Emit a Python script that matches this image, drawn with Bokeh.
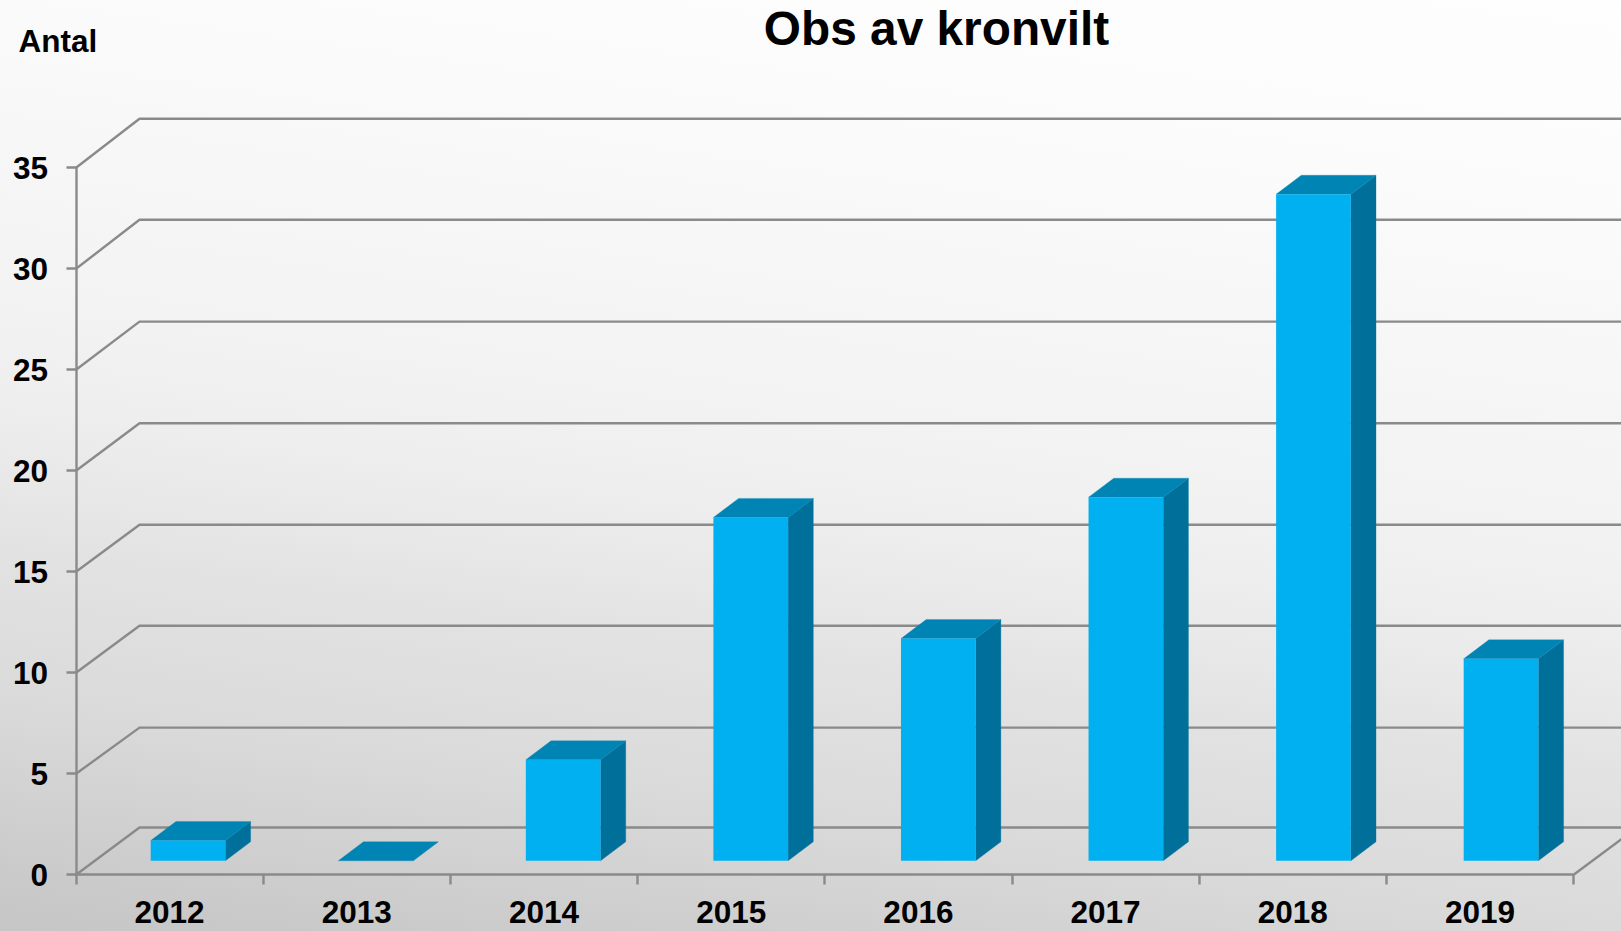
from bokeh.embed import file_html
from bokeh.resources import INLINE
from bokeh.plotting import figure
from bokeh.models import LinearAxis, FixedTicker, Range1d, Label

# --- data ---
years = ["2012", "2013", "2014", "2015", "2016", "2017", "2018", "2019"]
counts = [1, 0, 5, 17, 11, 18, 33, 10]
y_ticks = [0, 5, 10, 15, 20, 25, 30, 35]
title_text = "Obs av kronvilt"
y_title_text = "Antal"

# --- layout (pixels on the 1621x931 canvas) ---
W, H = 1621, 931
X0, UX = 75.5, 187.2       # x pixel of category edge 0, pixels per category
Y0, UY = 874.3, 20.2       # y pixel of value 0, pixels per unit


def dx(px):
    return px / UX


def dy(px):
    return px / UY


def sx(px):
    return (px - X0) / UX


def sy(px):
    return (Y0 - px) / UY


WALL_X = dx(63.5)                      # depth of the back wall
WALL_Y_PX = [47.3, 46.2, 47, 47, 47.6, 48.2, 49, 49]   # rise of each wall line
BAR_LEFT, BAR_W = dx(74.7), dx(74.7)   # bar position inside its category
BAR_PITCH = dx(187.57)                 # bar spacing
BAR_BASE = dy(14)                      # bars stand in the middle of the floor
DEPTH_X, DEPTH_Y = dx(25.2), dy(19)    # bar depth

GRID = "#8a8a8a"
FRONT, TOP, SIDE = "#00B0F0", "#0084B4", "#00709B"
FONT = "Liberation Sans"
INK = "#000000"
TICK_SIZE = "31.5px"
LINE_W = 2.4

p = figure(
    width=W, height=H, output_backend="svg", toolbar_location=None,
    x_range=Range1d(sx(0), sx(W)), y_range=Range1d(sy(H), sy(0)),
    x_axis_type=None, y_axis_type=None, min_border=0,
    background_fill_color=None, border_fill_color=None,
    outline_line_color=None,
)
p.grid.visible = False

# back wall / floor lines
n = len(years)
wall_xs = [[0, WALL_X, n + WALL_X] for _ in y_ticks]
wall_ys = [[v, v + dy(r), v + dy(r)] for v, r in zip(y_ticks, WALL_Y_PX)]
wall_xs.append([n, n + WALL_X])
wall_ys.append([0, dy(WALL_Y_PX[0])])
p.multi_line(wall_xs, wall_ys, line_color=GRID, line_width=LINE_W)

# bars
lefts = [i * BAR_PITCH + BAR_LEFT for i in range(n)]
rights = [l + BAR_W for l in lefts]
bases = [BAR_BASE] * n
tops = [c + BAR_BASE for c in counts]

p.patches(
    [[r, r + DEPTH_X, r + DEPTH_X, r] for r in rights],
    [[b, b + DEPTH_Y, t + DEPTH_Y, t] for b, t in zip(bases, tops)],
    fill_color=SIDE, line_color=SIDE, line_width=0.3,
)
p.patches(
    [[l, r, r + DEPTH_X, l + DEPTH_X] for l, r in zip(lefts, rights)],
    [[t, t, t + DEPTH_Y, t + DEPTH_Y] for t in tops],
    fill_color=TOP, line_color=TOP, line_width=0.3,
)
p.quad(left=lefts, right=rights, bottom=bases, top=tops,
       fill_color=FRONT, line_color=None)

# axes
yaxis = LinearAxis(
    fixed_location=0, bounds=(y_ticks[0], y_ticks[-1]),
    ticker=FixedTicker(ticks=y_ticks),
    axis_line_color=GRID, axis_line_width=LINE_W,
    major_tick_line_color=GRID, major_tick_line_width=LINE_W,
    major_tick_in=0, major_tick_out=10, minor_tick_line_color=None,
    major_label_text_font=FONT, major_label_text_font_style="bold",
    major_label_text_font_size=TICK_SIZE, major_label_text_color=INK,
    major_label_standoff=18,
)
p.add_layout(yaxis, "left")

xaxis = LinearAxis(
    fixed_location=0, bounds=(0, n),
    ticker=FixedTicker(ticks=list(range(n + 1))),
    major_label_overrides={i: "" for i in range(n + 1)},
    axis_line_color=GRID, axis_line_width=LINE_W,
    major_tick_line_color=GRID, major_tick_line_width=LINE_W,
    major_tick_in=0, major_tick_out=10, minor_tick_line_color=None,
)
p.add_layout(xaxis, "below")

xlabels = LinearAxis(
    fixed_location=0,
    ticker=FixedTicker(ticks=[i + 0.5 for i in range(n)]),
    major_label_overrides={i + 0.5: y for i, y in enumerate(years)},
    axis_line_color=None, major_tick_line_color=None,
    minor_tick_line_color=None,
    major_tick_in=0, major_tick_out=10,
    major_label_text_font=FONT, major_label_text_font_style="bold",
    major_label_text_font_size=TICK_SIZE, major_label_text_color=INK,
    major_label_standoff=16,
)
p.add_layout(xlabels, "below")

# texts
p.add_layout(Label(
    x=sx(936), y=sy(27.5), text=title_text, text_align="center",
    text_baseline="alphabetic", text_font=FONT, text_font_style="bold",
    text_font_size="47.8px", text_color=INK,
))
p.add_layout(Label(
    x=sx(18), y=sy(40.5), text=y_title_text, text_align="left",
    text_baseline="alphabetic", text_font=FONT, text_font_style="bold",
    text_font_size=TICK_SIZE, text_color=INK,
))

TEMPLATE = """
{% block postamble %}
<style>
html, body { margin: 0; padding: 0; overflow: hidden; height: 100%;
  background: linear-gradient(188deg, #fefefe 0%, #fbfbfb 18%, #f8f8f8 28%, #f2f2f2 47%,
    #eeeeee 54%, #e8e8e8 61%, #e3e3e3 66%, #dadada 80%, #c9c9c9 96%, #c6c6c6 100%); }
</style>
{% endblock %}
"""

open("out.html", "w").write(file_html(p, INLINE, template=TEMPLATE))
